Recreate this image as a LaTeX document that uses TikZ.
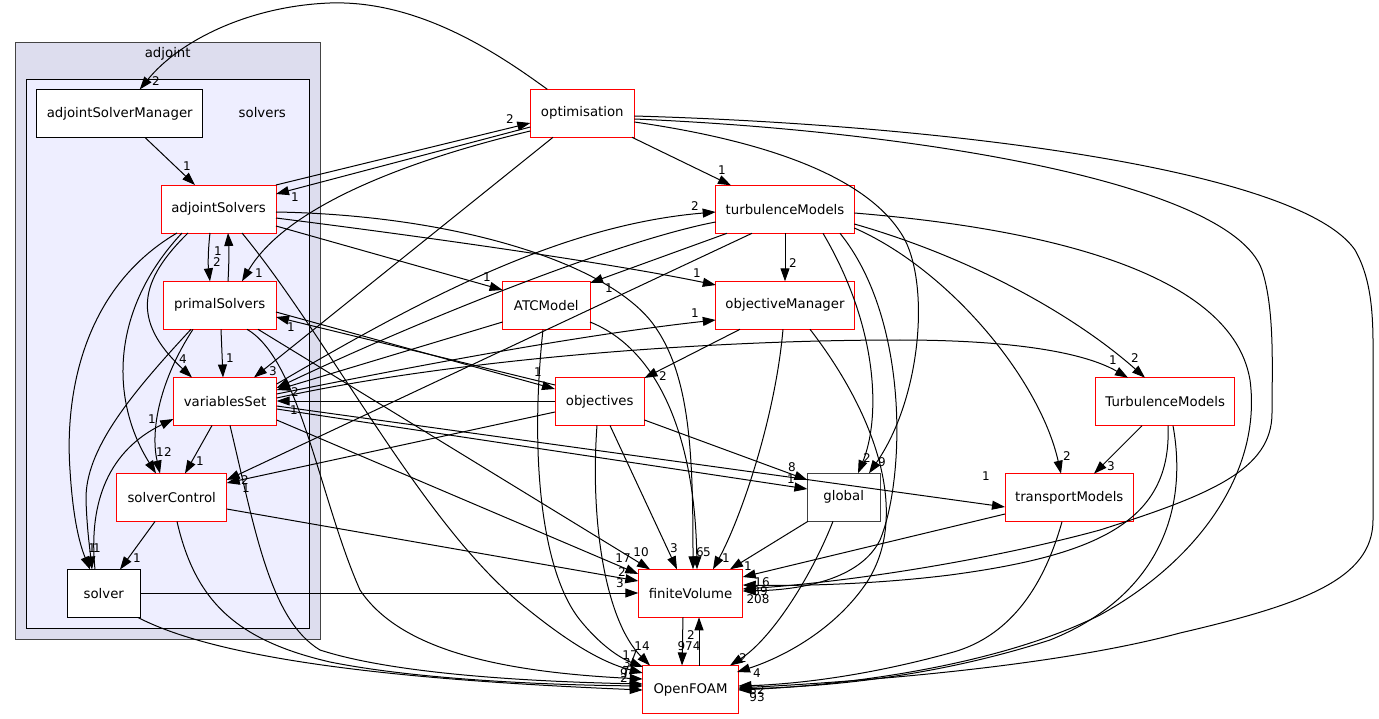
\documentclass[tikz,border=0pt]{standalone}
\usepackage{fontspec}
\setmainfont{DejaVu Sans}
\usetikzlibrary{arrows.meta,calc}
\begin{document}
\begin{tikzpicture}[x=1pt,y=-1pt,
  box/.style={draw=red, fill=white, line width=0.9pt, minimum height=48, inner sep=0pt, font=\fontsize{13.3}{16}\selectfont},
  bbox/.style={box, draw=black},
  edge/.style={line width=1pt, -{Triangle[length=13pt,width=9pt]}},
  lbl/.style={inner sep=0pt, font=\fontsize{12}{14}\selectfont},
  ctext/.style={inner sep=0pt, font=\fontsize{13.3}{16}\selectfont}]
\useasboundingbox (0,0) rectangle (1379,719);
% clusters
\draw[fill={rgb,255:red,221;green,221;blue,238}, draw={rgb,255:red,68;green,68;blue,68}, line width=0.9pt] (15.7,42.7) rectangle (320,639);
\draw[fill={rgb,255:red,238;green,238;blue,255}, draw=black, line width=0.9pt] (26.7,79) rectangle (309.3,628.3);
\node[ctext] (cadj) at (167.7,54.3) {adjoint};
\node[ctext] (csol) at (262.3,112.3) {solvers};
% nodes
\node[bbox, minimum width=166] (ASM) at (119.7,113.5) {adjointSolverManager};
\node[box, minimum width=115] (AS) at (218.5,209) {adjointSolvers};
\node[box, minimum width=112.6] (PS) at (219.7,305.3) {primalSolvers};
\node[box, minimum width=103.4] (VS) at (225,401.5) {variablesSet};
\node[box, minimum width=110] (SC) at (171.7,497.5) {solverControl};
\node[bbox, minimum width=72.4] (SV) at (103.8,593.5) {solver};
\node[box, minimum width=104] (OPT) at (582.3,113.3) {optimisation};
\node[box, minimum width=138.6] (tM) at (785,209.3) {turbulenceModels};
\node[box, minimum width=87.4] (ATC) at (546.3,305.5) {ATCModel};
\node[box, minimum width=138.4] (OM) at (785,305.3) {objectiveManager};
\node[box, minimum width=89.4] (OBJ) at (599.7,401.5) {objectives};
\node[box, minimum width=139] (TM) at (1165.2,401.7) {TurbulenceModels};
\node[bbox, draw={rgb,255:red,64;green,64;blue,64}, minimum width=72.6] (GL) at (843.7,497.3) {global};
\node[box, minimum width=128.4] (TR) at (1069.2,497.7) {transportModels};
\node[box, minimum width=104.4] (FV) at (690.5,593.3) {finiteVolume};
\node[box, minimum width=95.6] (OF) at (690.5,689.5) {OpenFOAM};
% edges
\draw[edge] ($(OPT.center)+(-35,-24)$) .. controls (500,55) and (420,0) .. (330,3) .. controls (250,6) and (180,40) .. ($(ASM.center)+(20,-24)$);
\draw[edge] ($(ASM.center)+(25.3,24)$) -- ($(AS.center)+(-23.5,-24)$);
\draw[edge] ($(AS.center)+(57.5,-24)$) -- ($(OPT.center)+(-52,9.7)$);
\draw[edge] ($(OPT.center)+(-52,13.7)$) -- ($(AS.center)+(57.5,-15)$);
\draw[edge] ($(OPT.center)+(-52,17.7)$) .. controls (430,155) and (290,200) .. ($(PS.center)+(22.3,-24)$);
\draw[edge] ($(OPT.center)+(-29.3,24)$) -- ($(VS.center)+(29,-24)$);
\draw[edge] ($(OPT.center)+(49.7,24)$) -- ($(tM.center)+(-54,-24)$);
\draw[edge] ($(OPT.center)+(52,8.7)$) .. controls (760,140) and (870,175) .. (905,240) .. controls (930,290) and (920,400) .. ($(GL.center)+(25.3,-24)$);
\draw[edge] ($(OPT.center)+(52,5.7)$) .. controls (900,130) and (1230,180) .. (1262,270) .. controls (1275,310) and (1272,370) .. (1272,413) .. controls (1272,470) and (1210,495) .. (1100,530) .. controls (990,560) and (850,582) .. ($(FV.center)+(52.2,-4.3)$);
\draw[edge] ($(OPT.center)+(52,2.7)$) .. controls (950,125) and (1300,170) .. (1355,250) .. controls (1375,285) and (1373,330) .. (1373,370) -- (1373,520) .. controls (1373,580) and (1300,605) .. (1180,633) .. controls (1050,668) and (850,682) .. ($(OF.center)+(47.8,-1.5)$);
\draw[edge] ($(AS.center)+(-8.5,24)$) .. controls (208,250) and (208,265) .. ($(PS.center)+(-9.7,-24)$);
\draw[edge] ($(PS.center)+(8.3,-24)$) .. controls (229,265) and (229,250) .. ($(AS.center)+(9.5,24)$);
\draw[edge] ($(AS.center)+(-30.5,24)$) .. controls (140,280) and (130,320) .. ($(VS.center)+(-33,-24)$);
\draw[edge] ($(AS.center)+(-36.5,24)$) .. controls (110,310) and (110,400) .. ($(SC.center)+(-15.7,-24)$);
\draw[edge] ($(AS.center)+(-41.5,24)$) .. controls (80,290) and (65,400) .. (70,470) .. controls (73,520) and (80,545) .. ($(SV.center)+(-13.8,-24)$);
\draw[edge] ($(PS.center)+(-26.7,24)$) .. controls (160,380) and (150,430) .. ($(SC.center)+(-11.7,-24)$);
\draw[edge] ($(PS.center)+(-28.7,24)$) .. controls (130,395) and (85,450) .. (86,500) .. controls (87,530) and (90,550) .. ($(SV.center)+(-11.8,-24)$);
\draw[edge] ($(SV.center)+(-8.8,-24)$) .. controls (88,500) and (110,450) .. ($(VS.center)+(-51.7,17.5)$);
\draw[edge] ($(PS.center)+(1.3,24)$) -- ($(VS.center)+(-2,-24)$);
\draw[edge] ($(VS.center)+(-13,24)$) -- ($(SC.center)+(13.3,-24)$);
\draw[edge] ($(SC.center)+(-16.7,24)$) -- ($(SV.center)+(16.2,-24)$);
\draw[edge] ($(VS.center)+(51.7,-17.5)$) .. controls (420,300) and (560,225) .. ($(tM.center)+(-69.3,2.7)$);
\draw[edge] ($(tM.center)+(-69.3,12.7)$) .. controls (620,240) and (420,320) .. ($(VS.center)+(51.7,-13.5)$);
\draw[edge] ($(ATC.center)+(-43.7,16.5)$) -- ($(VS.center)+(51.7,-11.5)$);
\draw[edge] ($(OBJ.center)+(-44.7,-0.5)$) -- ($(VS.center)+(51.7,-0.5)$);
\draw[edge] ($(VS.center)+(51.7,-7.5)$) .. controls (420,365) and (580,335) .. ($(OM.center)+(-69.2,14.7)$);
\draw[edge] ($(VS.center)+(51.7,-3.5)$) .. controls (450,360) and (700,340) .. (900,340) .. controls (1000,340) and (1080,350) .. ($(TM.center)+(-37.2,-24)$);
\draw[edge] ($(VS.center)+(51.7,4.5)$) -- ($(TR.center)+(-64.2,9.3)$);
\draw[edge] ($(VS.center)+(51.7,7.5)$) -- ($(GL.center)+(-36.3,-8.3)$);
\draw[edge] ($(VS.center)+(51.7,18.5)$) -- ($(FV.center)+(-52.2,-19.3)$);
\draw[edge] ($(SC.center)+(55,11.5)$) -- ($(FV.center)+(-52.2,-12.3)$);
\draw[edge] ($(SV.center)+(36.2,-0.5)$) -- ($(FV.center)+(-52.2,-0.3)$);
\draw[edge] ($(PS.center)+(38.3,24)$) -- ($(FV.center)+(-40.5,-24)$);
\draw[edge] ($(VS.center)+(5,24)$) .. controls (255,530) and (270,620) .. (320,650) .. controls (400,676) and (550,682) .. ($(OF.center)+(-47.8,-5.5)$);
\draw[edge] ($(SC.center)+(5.3,24)$) .. controls (195,600) and (235,640) .. (330,662) .. controls (420,680) and (550,685) .. ($(OF.center)+(-47.8,-3.5)$);
\draw[edge] ($(SV.center)+(34.2,24)$) .. controls (220,660) and (400,680) .. ($(OF.center)+(-47.8,0.5)$);
\draw[edge] ($(PS.center)+(27.3,24)$) .. controls (300,360) and (320,500) .. (360,590) .. controls (400,650) and (500,672) .. ($(OF.center)+(-47.8,-10.5)$);
\draw[edge] ($(AS.center)+(23.5,24)$) .. controls (330,340) and (420,520) .. (520,603) .. controls (565,640) and (600,662) .. ($(OF.center)+(-47.8,-16.5)$);
\draw[edge] ($(AS.center)+(57.5,3)$) .. controls (450,215) and (600,260) .. (650,320) .. controls (690,370) and (693,450) .. ($(FV.center)+(2.5,-24)$);
\draw[edge] ($(AS.center)+(57.5,17)$) -- ($(ATC.center)+(-43.7,-15.5)$);
\draw[edge] ($(AS.center)+(57.5,9)$) .. controls (450,240) and (620,265) .. ($(OM.center)+(-69.2,-20.3)$);
\draw[edge] ($(ATC.center)+(43.7,16.5)$) .. controls (660,350) and (695,440) .. ($(FV.center)+(6.5,-24)$);
\draw[edge] ($(ATC.center)+(-3.3,24)$) .. controls (530,450) and (540,570) .. (580,620) .. controls (600,645) and (620,658) .. ($(OF.center)+(-47.5,-22.5)$);
\draw[edge] ($(OBJ.center)+(-2.7,24)$) .. controls (590,520) and (605,620) .. ($(OF.center)+(-40.5,-24)$);
\draw[edge] ($(OBJ.center)+(10.3,24)$) -- ($(FV.center)+(-13.5,-24)$);
\draw[edge] ($(OBJ.center)+(44.7,18.5)$) -- ($(GL.center)+(-36.3,-17.3)$);
\draw[edge] ($(OBJ.center)+(-44.7,10.5)$) -- ($(SC.center)+(55,-14.5)$);
\draw[edge] ($(OBJ.center)+(-44.7,-16.5)$) -- ($(PS.center)+(56.3,11.7)$);
\draw[edge] ($(PS.center)+(56.3,6.7)$) -- ($(OBJ.center)+(-44.7,-12.5)$);
\draw[edge] ($(tM.center)+(-33,24)$) -- ($(SC.center)+(55,-17.5)$);
\draw[edge] ($(OM.center)+(-45,24)$) -- ($(OBJ.center)+(44.7,-23.5)$);
\draw[edge] ($(OM.center)+(-2,24)$) .. controls (775,420) and (740,520) .. ($(FV.center)+(22.5,-24)$);
\draw[edge] ($(OM.center)+(25,24)$) .. controls (880,420) and (910,520) .. (865,585) .. controls (830,635) and (775,660) .. ($(OF.center)+(46.5,-17.5)$);
\draw[edge] ($(tM.center)+(0,24)$) -- ($(OM.center)+(0,-24)$);
\draw[edge] ($(tM.center)+(-58,24)$) -- ($(ATC.center)+(43.7,-22.5)$);
\draw[edge] ($(tM.center)+(38,24)$) .. controls (880,330) and (880,420) .. ($(GL.center)+(14.3,-24)$);
\draw[edge] ($(tM.center)+(55,24)$) .. controls (910,320) and (905,480) .. (880,540) .. controls (860,580) and (800,590) .. ($(FV.center)+(52.2,-2.3)$);
\draw[edge] ($(tM.center)+(69.3,18.7)$) .. controls (950,270) and (1040,380) .. ($(TR.center)+(-8.2,-24)$);
\draw[edge] ($(tM.center)+(69.3,14.7)$) .. controls (980,260) and (1080,320) .. ($(TM.center)+(-20.2,-24)$);
\draw[edge] ($(tM.center)+(69.3,3.7)$) .. controls (1000,225) and (1230,260) .. (1250,380) .. controls (1262,470) and (1200,560) .. (1100,615) .. controls (1000,665) and (850,685) .. ($(OF.center)+(47.8,0.5)$);
\draw[edge] ($(TM.center)+(-23.2,24)$) -- ($(TR.center)+(24.8,-24)$);
\draw[edge] ($(TM.center)+(2.8,24)$) .. controls (1172,520) and (1100,555) .. (950,575) .. controls (870,585) and (790,586) .. ($(FV.center)+(52.2,-8.3)$);
\draw[edge] ($(TM.center)+(7.8,24)$) .. controls (1190,520) and (1150,600) .. (1050,640) .. controls (950,672) and (850,686) .. ($(OF.center)+(47.8,-0.5)$);
\draw[edge] ($(TR.center)+(-64.2,16.3)$) -- ($(FV.center)+(52.2,-16.3)$);
\draw[edge] ($(TR.center)+(-7.2,24)$) .. controls (1040,600) and (1000,640) .. (950,653) .. controls (870,675) and (800,684) .. ($(OF.center)+(47.8,-3.5)$);
\draw[edge] ($(GL.center)+(-35.7,24)$) -- ($(FV.center)+(39.5,-24)$);
\draw[edge] ($(GL.center)+(-10.7,24)$) .. controls (810,580) and (770,640) .. ($(OF.center)+(39.5,-24)$);
\draw[edge] ($(FV.center)+(-7.5,24)$) -- ($(OF.center)+(-8.5,-24)$);
\draw[edge] ($(OF.center)+(8.5,-24)$) -- ($(FV.center)+(8.5,24)$);
% labels
\node[lbl] (l1) at (156,81) {2};
\node[lbl] (l2) at (187,166) {1};
\node[lbl] (l3) at (510,119) {2};
\node[lbl] (l4) at (295,197) {1};
\node[lbl] (l5) at (259,273) {1};
\node[lbl] (l6) at (273,371) {3};
\node[lbl] (l7) at (722,170) {1};
\node[lbl] (l8) at (882,462) {9};
\node[lbl] (l9) at (218,251) {1};
\node[lbl] (l10) at (217,262) {2};
\node[lbl] (l11) at (183,359) {4};
\node[lbl] (l12) at (160,452) {1};
\node[lbl] (l13) at (168,452) {2};
\node[lbl] (l14) at (92,548) {1};
\node[lbl] (l15) at (97,548) {1};
\node[lbl] (l16) at (152,419) {1};
\node[lbl] (l17) at (230,358) {1};
\node[lbl] (l18) at (200,461) {1};
\node[lbl] (l19) at (137,558) {1};
\node[lbl] (l20) at (695,206) {2};
\node[lbl] (l21) at (295,392) {2};
\node[lbl] (l22) at (294,410) {1};
\node[lbl] (l23) at (695,313) {1};
\node[lbl] (l24) at (1113,360) {1};
\node[lbl] (l25) at (986,476) {1};
\node[lbl] (l26) at (791,479) {1};
\node[lbl] (l27) at (623,558) {17};
\node[lbl] (l28) at (622,572) {2};
\node[lbl] (l29) at (620,583) {3};
\node[lbl] (l30) at (641,552) {10};
\node[lbl] (l31) at (700,552) {6};
\node[lbl] (l32) at (487,277) {1};
\node[lbl] (l33) at (697,273) {1};
\node[lbl] (l34) at (707,552) {5};
\node[lbl] (l35) at (630,655) {17};
\node[lbl] (l36) at (642,646) {14};
\node[lbl] (l37) at (674,548) {3};
\node[lbl] (l38) at (792,467) {8};
\node[lbl] (l39) at (246,488) {1};
\node[lbl] (l40) at (291,327) {1};
\node[lbl] (l41) at (538,372) {1};
\node[lbl] (l42) at (245,480) {2};
\node[lbl] (l43) at (663,376) {2};
\node[lbl] (l44) at (726,558) {1};
\node[lbl] (l45) at (757,673) {4};
\node[lbl] (l46) at (793,263) {2};
\node[lbl] (l47) at (609,288) {1};
\node[lbl] (l48) at (867,458) {2};
\node[lbl] (l49) at (1067,456) {2};
\node[lbl] (l50) at (1135,358) {2};
\node[lbl] (l51) at (1111,466) {3};
\node[lbl] (l52) at (748,566) {1};
\node[lbl] (l53) at (762,582) {16};
\node[lbl] (l54) at (760,591) {89};
\node[lbl] (l55) at (758,599) {208};
\node[lbl] (l56) at (743,658) {2};
\node[lbl] (l57) at (689,646) {974};
\node[lbl] (l58) at (691,635) {2};
\node[lbl] (l59) at (627,663) {3};
\node[lbl] (l60) at (626,671) {7};
\node[lbl] (l61) at (624,673) {9};
\node[lbl] (l62) at (624,678) {2};
\node[lbl] (l63) at (757,690) {52};
\node[lbl] (l64) at (757,697) {93};
\end{tikzpicture}
\end{document}
